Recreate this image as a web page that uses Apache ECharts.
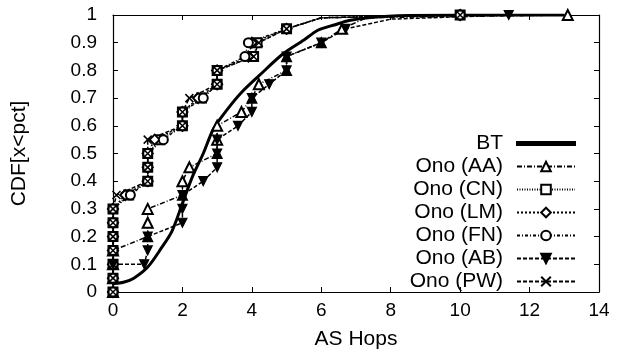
<!DOCTYPE html>
<html>
<head>
<meta charset="utf-8">
<script src="https://cdn.jsdelivr.net/npm/echarts@6/dist/echarts.min.js"></script>
<style>
html,body{margin:0;padding:0;background:#fff;}
#chart{width:622px;height:362px;}
</style>
</head>
<body>
<div id="chart"></div>
<script>
// ---- tick labels ----
const xTickLabels = ['0','2','4','6','8','10','12','14'];
const yTickLabels = ['0','0.1','0.2','0.3','0.4','0.5','0.6','0.7','0.8','0.9','1'];
const seriesNames = ['BT','Ono (AA)','Ono (CN)','Ono (LM)','Ono (FN)','Ono (AB)','Ono (PW)'];

// ---- data (AS hops, CDF) ----
const btX = [0,0.3,0.6,1,1.4,1.7,2,2.3,2.6,2.9,3.3,3.7,4.2,4.9,5.5,5.9,6.4,6.8,7.5,8.5,10,13];
const btY = [0.03,0.035,0.05,0.09,0.16,0.22,0.32,0.42,0.5,0.59,0.66,0.72,0.78,0.86,0.91,0.945,0.965,0.98,0.992,0.998,1,1];

const aaX = [0,0,0,0,1,1,1,2,2,2.2,3,3,3,3.7,4,4.2,5,5,6,6.6,7.3,13.1];
const aaY = [0,0.05,0.1,0.15,0.2,0.25,0.3,0.35,0.4,0.45,0.5,0.55,0.6,0.65,0.7,0.75,0.8,0.85,0.9,0.95,0.99,1];
const aaSolidIdx = [4,7,10,14,16,17,18];

const cnX = [0,0,0,0,0,0,0,0.45,1,1,1,1.35,2,2,2.55,3,3,4.05,4.15,5,6,10];
const cnY = [0,0.05,0.1,0.15,0.2,0.25,0.3,0.35,0.4,0.45,0.5,0.55,0.6,0.65,0.7,0.75,0.8,0.85,0.9,0.95,0.99,1];

const lmX = [0,0,0,0,0,0,0,0.35,1,1,1,1.2,2,2,2.45,3,3,3.9,4.0,5,6,10];
const lmY = [0,0.05,0.1,0.15,0.2,0.25,0.3,0.35,0.4,0.45,0.5,0.55,0.6,0.65,0.7,0.75,0.8,0.85,0.9,0.95,0.99,1];

const fnX = [0,0,0,0,0,0,0,0.5,1,1,1,1.45,2,2,2.6,3,3,3.8,3.9,5,6,10];
const fnY = [0,0.05,0.1,0.15,0.2,0.25,0.3,0.35,0.4,0.45,0.5,0.55,0.6,0.65,0.7,0.75,0.8,0.85,0.9,0.95,0.99,1];

const abX = [0,0.9,1,1,2,2,2,2.6,3,3,3,3.6,4,4,4.5,5,5,6,6.7,8,11.4];
const abY = [0.1,0.1,0.15,0.2,0.25,0.3,0.35,0.4,0.45,0.5,0.55,0.6,0.65,0.7,0.75,0.8,0.85,0.9,0.95,0.985,1];

const pwX = [0,0,0,0,0,0,0,0.1,1,1,1,1.0,2,2,2.2,3,3,4.05,4.2,5,6,10];
const pwY = [0,0.05,0.1,0.15,0.2,0.25,0.3,0.35,0.4,0.45,0.5,0.55,0.6,0.65,0.7,0.75,0.8,0.85,0.9,0.95,0.99,1];

// markers only at 5% CDF steps
function onStep(y){ return Math.abs(y*20 - Math.round(y*20)) < 1e-6; }
function build(xs, ys, solidIdx){
  return xs.map((x,i)=>{
    const item = {value:[x, ys[i]]};
    if(!onStep(ys[i])) item.symbol = 'none';
    if(solidIdx && solidIdx.indexOf(i) >= 0){ item.symbol = 'triangle'; item.itemStyle = {color:'#000'}; }
    return item;
  });
}

const FONT = 'Liberation Sans, Arial, Helvetica, sans-serif';
const crossPath = 'path://M0,0L10,10M10,0L0,10';

function lineSeries(name, data, symbol, size, dash, extra){
  return Object.assign({
    name: name, type: 'line', data: data,
    symbol: symbol, symbolSize: size, showAllSymbol: true,
    lineStyle: {color:'#000', width:1.5, type: dash},
    itemStyle: {color:'#000', borderColor:'#000', borderWidth:1.2},
    emphasis: {disabled:true}, animation:false, z: 2
  }, extra || {});
}

const legendData = seriesNames.map((n,i)=> i === 0
  ? {name:n, icon:'path://M0,0H58V3H0Z', itemStyle:{color:'#000'}}
  : {name:n});

const chart = echarts.init(document.getElementById('chart'), null, {renderer:'canvas'});
const option = {
  backgroundColor: '#fff',
  animation: false,
  textStyle: {fontFamily: FONT, color:'#000'},
  grid: {left:113, right:23, top:15, bottom:70},
  legend: {
    orient: 'vertical', right: 41, top: 128, align: 'right',
    itemWidth: 58, itemHeight: 12, itemGap: 2,
    textStyle: {fontFamily: FONT, fontSize: 21, color:'#000', lineHeight: 20, padding:[0,9,0,0]},
    data: legendData, selectedMode: false
  },
  xAxis: [{
    type:'value', min:0, max:14, interval:2,
    name:'AS Hops', nameLocation:'middle', nameGap:37,
    nameTextStyle:{fontFamily:FONT, fontSize:21, color:'#000'},
    axisLine:{show:true, onZero:false, lineStyle:{color:'#000', width:1.2}},
    axisTick:{show:true, inside:true, length:5, lineStyle:{color:'#000'}},
    axisLabel:{fontFamily:FONT, fontSize:19, color:'#000', margin:9,
      formatter:(v)=>xTickLabels[Math.round(v/2)]},
    splitLine:{show:false}
  },{
    type:'value', min:0, max:14, interval:2, position:'top',
    axisLine:{show:true, onZero:false, lineStyle:{color:'#000', width:1.2}},
    axisTick:{show:true, inside:true, length:5, lineStyle:{color:'#000'}},
    axisLabel:{show:false}, splitLine:{show:false}
  }],
  yAxis: [{
    type:'value', min:0, max:1, interval:0.1,
    name:'CDF[x<pct]', nameLocation:'middle', nameGap:83,
    nameTextStyle:{fontFamily:FONT, fontSize:21, color:'#000'},
    axisLine:{show:true, onZero:false, lineStyle:{color:'#000', width:1.2}},
    axisTick:{show:true, inside:true, length:5, lineStyle:{color:'#000'}},
    axisLabel:{fontFamily:FONT, fontSize:19, color:'#000', margin:16,
      formatter:(v)=>yTickLabels[Math.round(v*10)]},
    splitLine:{show:false}
  },{
    type:'value', min:0, max:1, interval:0.1, position:'right',
    axisLine:{show:true, onZero:false, lineStyle:{color:'#000', width:1.2}},
    axisTick:{show:true, inside:true, length:5, lineStyle:{color:'#000'}},
    axisLabel:{show:false}, splitLine:{show:false}
  }],
  series: [
    lineSeries(seriesNames[0], build(btX, btY), 'none', 0, 'solid', {lineStyle:{color:'#000', width:3, type:'solid'}, smooth:0.3}),
    lineSeries(seriesNames[1], build(aaX, aaY, aaSolidIdx), 'emptyTriangle', 10, [5,2,1,2]),
    lineSeries(seriesNames[2], build(cnX, cnY), 'emptyRect', 9, [1,1.5]),
    lineSeries(seriesNames[3], build(lmX, lmY), 'emptyDiamond', 10, [2,2]),
    lineSeries(seriesNames[4], build(fnX, fnY), 'emptyCircle', 9, [3,2,1,2]),
    lineSeries(seriesNames[5], build(abX, abY), 'triangle', 9, [4,2], {symbolRotate:180}),
    lineSeries(seriesNames[6], build(pwX, pwY), crossPath, 8, [4,2], {itemStyle:{color:'#000', borderColor:'#000', borderWidth:1.5}})
  ]
};
chart.setOption(option);
</script>
</body>
</html>
